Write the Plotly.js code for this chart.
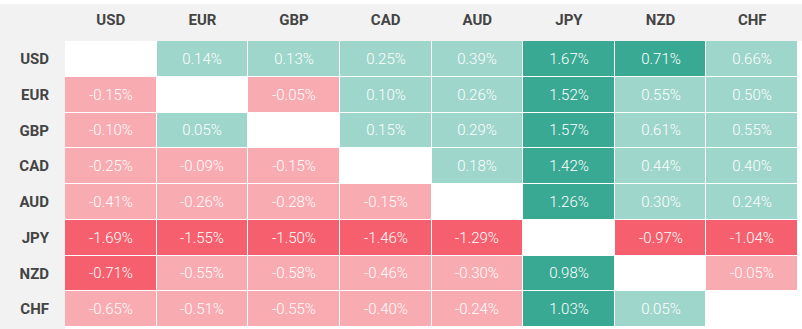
<!DOCTYPE html>
<html>
<head>
<meta charset="utf-8">
<script src="https://cdn.plot.ly/plotly-3.0.1.min.js"></script>
<style>html,body{margin:0;padding:0;background:#fff;}#chart{width:802px;height:329px;}</style>
</head>
<body>
<div id="chart"></div>
<script>
const currencies = ["USD", "EUR", "GBP", "CAD", "AUD", "JPY", "NZD", "CHF"];
const rowUSD = [null, 0.14, 0.13, 0.25, 0.39, 1.67, 0.71, 0.66];
const rowEUR = [-0.15, null, -0.05, 0.10, 0.26, 1.52, 0.55, 0.50];
const rowGBP = [-0.10, 0.05, null, 0.15, 0.29, 1.57, 0.61, 0.55];
const rowCAD = [-0.25, -0.09, -0.15, null, 0.18, 1.42, 0.44, 0.40];
const rowAUD = [-0.41, -0.26, -0.28, -0.15, null, 1.26, 0.30, 0.24];
const rowJPY = [-1.69, -1.55, -1.50, -1.46, -1.29, null, -0.97, -1.04];
const rowNZD = [-0.71, -0.55, -0.58, -0.46, -0.30, 0.98, null, -0.05];
const rowCHF = [-0.65, -0.51, -0.55, -0.40, -0.24, 1.03, 0.05, null];

const values = [rowUSD, rowEUR, rowGBP, rowCAD, rowAUD, rowJPY, rowNZD, rowCHF];

function level(v) {
  if (v === null) return null;
  if (v >= 0.7) return 2;
  if (v > 0) return 1;
  if (v <= -0.7) return -2;
  return -1;
}
const z = values.map(r => r.map(level));
const txt = values.map(r => r.map(v => v === null ? "" : v.toFixed(2) + "%"));

const darkRed = "#f65f6d", lightPink = "#f9abb2", lightTeal = "#9ed6cb", darkTeal = "#3aa993";

const trace = {
  type: "heatmap",
  x: currencies,
  y: currencies,
  z: z,
  text: txt,
  texttemplate: "%{text}",
  textfont: {family: "Roboto", size: 15, color: "#ffffff", weight: 300},
  zmin: -2, zmax: 2,
  colorscale: [[0, darkRed], [0.2, darkRed], [0.2, lightPink], [0.5, lightPink], [0.5, lightTeal], [0.8, lightTeal], [0.8, darkTeal], [1, darkTeal]],
  showscale: false,
  xgap: 1, ygap: 1,
  hoverinfo: "skip"
};

const pw = 802 - 65 - 4, ph = 329 - 41 - 2;
const layout = {
  width: 802, height: 329,
  margin: {l: 65, r: 4, t: 41, b: 2, pad: 0},
  paper_bgcolor: "#ffffff",
  plot_bgcolor: "#ffffff",
  font: {family: "Roboto", color: "#444444"},
  xaxis: {side: "top", showgrid: false, zeroline: false, showline: false, ticks: "", ticklabelstandoff: 12,
          tickfont: {family: "Roboto", size: 15, color: "#444444", weight: 700}, fixedrange: true},
  yaxis: {autorange: "reversed", showgrid: false, zeroline: false, showline: false, ticks: "", ticklabelstandoff: 15,
          tickfont: {family: "Roboto", size: 15, color: "#444444", weight: 700}, fixedrange: true},
  shapes: [
    {type: "rect", xref: "paper", yref: "paper", layer: "below", line: {width: 0}, fillcolor: "#f2f2f2",
     x0: -65 / pw, x1: 1 + 4 / pw, y0: 1, y1: 1 + 37 / ph},
    {type: "rect", xref: "paper", yref: "paper", layer: "below", line: {width: 0}, fillcolor: "#f2f2f2",
     x0: -65 / pw, x1: 0, y0: -2 / ph, y1: 1}
  ]
};

Plotly.newPlot("chart", [trace], layout, {displayModeBar: false, staticPlot: true});
</script>
</body>
</html>
